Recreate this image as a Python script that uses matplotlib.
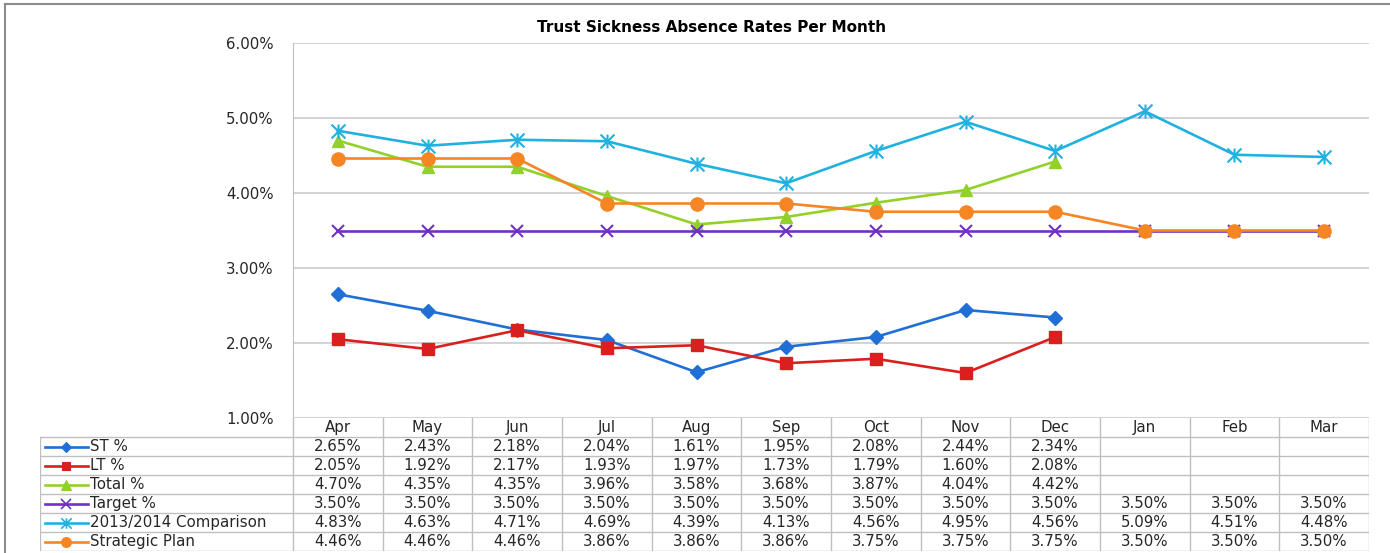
import numpy as np
import matplotlib
matplotlib.use("Agg")
import matplotlib.pyplot as plt
from matplotlib.lines import Line2D
from matplotlib.path import Path

months = ["Apr", "May", "Jun", "Jul", "Aug", "Sep", "Oct", "Nov", "Dec", "Jan", "Feb", "Mar"]
nan = np.nan
st_pct = [2.65, 2.43, 2.18, 2.04, 1.61, 1.95, 2.08, 2.44, 2.34, nan, nan, nan]
lt_pct = [2.05, 1.92, 2.17, 1.93, 1.97, 1.73, 1.79, 1.60, 2.08, nan, nan, nan]
total_pct = [4.70, 4.35, 4.35, 3.96, 3.58, 3.68, 3.87, 4.04, 4.42, nan, nan, nan]
target_pct = [3.50] * 12
comparison = [4.83, 4.63, 4.71, 4.69, 4.39, 4.13, 4.56, 4.95, 4.56, 5.09, 4.51, 4.48]
strategic = [4.46, 4.46, 4.46, 3.86, 3.86, 3.86, 3.75, 3.75, 3.75, 3.50, 3.50, 3.50]

series_names = ["ST %", "LT %", "Total %", "Target %", "2013/2014 Comparison", "Strategic Plan"]
series_vals = [st_pct, lt_pct, total_pct, target_pct, comparison, strategic]

# asterisk marker like Excel's "star": an x with a vertical bar
star = Path([(0, -1), (0, 1), (-1, -1), (1, 1), (-1, 1), (1, -1)],
            [Path.MOVETO, Path.LINETO] * 3)

styles = [
    dict(color="#1F6FD7", marker="D", ms=7),
    dict(color="#D9201E", marker="s", ms=8.5),
    dict(color="#92D02A", marker="^", ms=9),
    dict(color="#7030C8", marker="x", ms=9, mew=1.5),
    dict(color="#1FB2E0", marker=star, ms=10, mew=1.5),
    dict(color="#F58623", marker="o", ms=9.5),
]

W, H = 1390, 553
fig = plt.figure(figsize=(W / 100, H / 100), dpi=100)
plt.rcParams["font.family"] = "DejaVu Sans"
fs = 10.8
txt_c = "#262626"

def fx(px):
    return px / W

def fy(py):
    return 1 - py / H

x0_px, x1_px = 293, 1369
top_px, bot_px = 43, 418
ax = fig.add_axes([fx(x0_px), fy(bot_px), fx(x1_px - x0_px), (bot_px - top_px) / H])

x = np.arange(len(months))
for vals, st in zip(series_vals, styles):
    ax.plot(x, vals, lw=1.9, color=st["color"], marker=st["marker"],
            ms=st["ms"], mew=st.get("mew", 1.0), mec=st["color"], mfc=st["color"])

ax.set_xlim(-0.5, len(months) - 0.5)
ax.set_ylim(1.0, 6.0)
ax.set_yticks([1, 2, 3, 4, 5, 6])
ax.set_yticklabels(["%.2f%%" % v for v in [1, 2, 3, 4, 5, 6]], fontsize=fs, color=txt_c)
ax.tick_params(axis="y", length=0, pad=14)
ax.set_xticks([])
ax.grid(axis="y", color="#d4d4d4", lw=1.5)
ax.set_axisbelow(True)
for s in ["top", "right", "bottom"]:
    ax.spines[s].set_visible(False)
ax.spines["left"].set_color("#bfbfbf")

fig.text(fx(712), fy(27), "Trust Sickness Absence Rates Per Month",
         ha="center", va="center", fontsize=11, fontweight="bold")

# data table below the plot
col_w = (x1_px - x0_px) / len(months)
tab_left_px = 40
row_h = 19
n_rows = len(series_names) + 1
tab = fig.add_axes([fx(tab_left_px), fy(bot_px + n_rows * row_h),
                    fx(x1_px - tab_left_px), n_rows * row_h / H])
left_x = -0.5 - (x0_px - tab_left_px) / col_w
tab.set_xlim(left_x, len(months) - 0.5)
tab.set_ylim(n_rows, 0)
tab.axis("off")

grid_c = "#bfbfbf"
for r in range(1, n_rows + 1):
    tab.plot([left_x, len(months) - 0.5], [r, r], color=grid_c, lw=1)
tab.plot([left_x, left_x], [1, n_rows], color=grid_c, lw=1)
for k in range(len(months) + 1):
    tab.plot([k - 0.5, k - 0.5], [0, n_rows], color=grid_c, lw=1)

for i, m in enumerate(months):
    tab.text(i, 0.5, m, ha="center", va="center", fontsize=fs, color=txt_c)

def px2x(px):
    return left_x + (px - tab_left_px) / col_w

for r, (name, vals, st) in enumerate(zip(series_names, series_vals, styles)):
    yrow = r + 1.5
    tab.plot([px2x(45), px2x(66), px2x(88)], [yrow] * 3, color=st["color"], lw=1.9,
             marker=st["marker"], ms=st["ms"] * 0.75, mew=st.get("mew", 1.0) * 0.8,
             mec=st["color"], mfc=st["color"], markevery=[1])
    tab.text(px2x(90), yrow, name, ha="left", va="center", fontsize=fs, color=txt_c)
    for i, v in enumerate(vals):
        if not np.isnan(v):
            tab.text(i, yrow, "%.2f%%" % v, ha="center", va="center", fontsize=fs, color=txt_c)

# chart area border (left and top edges visible)
fig.add_artist(Line2D([fx(5), fx(5)], [fy(4), 0], transform=fig.transFigure, color="#8c8c8c", lw=1.5))
fig.add_artist(Line2D([fx(5), 1], [fy(4), fy(4)], transform=fig.transFigure, color="#8c8c8c", lw=1.5))

fig.savefig("out.png", dpi=100)
